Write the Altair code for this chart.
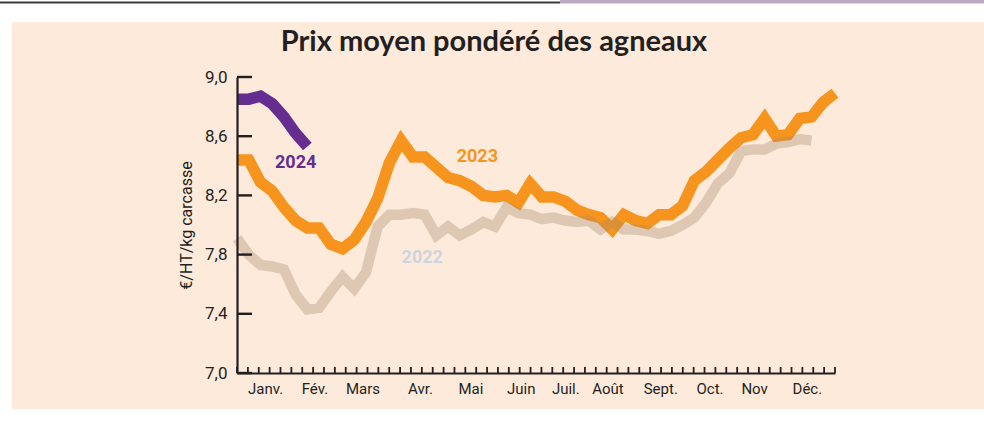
import altair as alt
import pandas as pd
import numpy as np

# ---- data ----
weeks_2022 = list(range(1, 51))
prix_2022 = [7.91, 7.80, 7.73, 7.72, 7.70, 7.53, 7.43, 7.44, 7.55, 7.65,
             7.57, 7.68, 7.99, 8.07, 8.07, 8.08, 8.07, 7.93, 7.99, 7.93,
             7.97, 8.02, 7.99, 8.12, 8.08, 8.07, 8.04, 8.05, 8.03, 8.02,
             8.03, 7.97, 8.02, 7.97, 7.97, 7.96, 7.94, 7.96, 8.00, 8.05,
             8.15, 8.28, 8.35, 8.50, 8.51, 8.51, 8.55, 8.56, 8.58, 8.57]

weeks_2023 = list(range(1, 53))
prix_2023 = [8.44, 8.44, 8.29, 8.23, 8.12, 8.03, 7.98, 7.98, 7.87, 7.84,
             7.90, 8.02, 8.18, 8.42, 8.57, 8.46, 8.46, 8.39, 8.32, 8.30,
             8.26, 8.20, 8.19, 8.20, 8.15, 8.28, 8.19, 8.19, 8.16, 8.10,
             8.07, 8.05, 7.97, 8.07, 8.03, 8.01, 8.07, 8.07, 8.13, 8.30,
             8.36, 8.44, 8.52, 8.59, 8.61, 8.72, 8.60, 8.61, 8.72, 8.73,
             8.83, 8.89]

weeks_2024 = list(range(1, 8))
prix_2024 = [8.85, 8.85, 8.87, 8.82, 8.73, 8.62, 8.53]

month_labels = ["Janv.", "Fév.", "Mars", "Avr.", "Mai", "Juin", "Juil.",
                "Août", "Sept.", "Oct.", "Nov", "Déc."]
month_weeks = [3.4, 7.6, 11.7, 16.6, 20.9, 25.2, 29.0, 32.6, 37.1, 41.3, 45.1, 49.6]

y_ticks = [7.0, 7.4, 7.8, 8.2, 8.6, 9.0]
week_ticks = [float(v) for v in np.linspace(1, 52, 56)]

year_labels = ["2024", "2023", "2022"]
year_label_x = [6.0, 21.5, 16.8]
year_label_y = [8.42, 8.46, 7.78]
year_label_colors = ["#662d91", "#f7941d", "#cbd5de"]

# ---- style ----
PEACH = "#feeada"
DARK = "#231f20"
ORANGE = "#f7941d"
PURPLE = "#662d91"
GREY = "#a68a6a"
W, H = 598, 296
PAD_L, PAD_T = 237, 77
FONT = "Roboto"

x_scale = alt.Scale(domain=[1, 52], nice=False, zero=False)
y_scale = alt.Scale(domain=[7.0, 9.0], nice=False, zero=False)

label_expr_x = ("[" + ",".join("'%s'" % m for m in month_labels) + "][indexof(["
                + ",".join(str(v) for v in month_weeks) + "], datum.value)]")

ax_x = alt.Axis(values=month_weeks, labelExpr=label_expr_x, tickSize=0,
                domainColor=DARK, domainWidth=2.2, grid=False, title=None,
                labelFont=FONT, labelFontSize=15, labelColor=DARK,
                labelPadding=8, labelAngle=0, zindex=1)
ax_y = alt.Axis(values=y_ticks,
                labelExpr="replace(format(datum.value, '.1f'), '.', ',')",
                tickSize=0, domainColor=DARK, domainWidth=2.2, grid=False,
                labelFont=FONT, labelFontSize=17, labelColor=DARK,
                labelPadding=10, title="€/HT/kg carcasse",
                titleFont=FONT, titleFontSize=16, titleFontWeight="normal",
                titleColor=DARK, titlePadding=10, zindex=1)

X = alt.X("semaine:Q", scale=x_scale, axis=ax_x)
Y = alt.Y("prix:Q", scale=y_scale, axis=ax_y)

df22 = pd.DataFrame({"semaine": weeks_2022, "prix": prix_2022})
df23 = pd.DataFrame({"semaine": weeks_2023, "prix": prix_2023})
df24 = pd.DataFrame({"semaine": weeks_2024, "prix": prix_2024})
one = pd.DataFrame({"a": [0]})

# white margins around the peach panel (canvas background is peach)
white_top = alt.Chart(one).mark_rect(color="white").encode(
    x=alt.value(0 - PAD_L), x2=alt.value(984 - PAD_L),
    y=alt.value(0 - PAD_T), y2=alt.value(22 - PAD_T))
white_left = alt.Chart(one).mark_rect(color="white").encode(
    x=alt.value(0 - PAD_L), x2=alt.value(12 - PAD_L),
    y=alt.value(0 - PAD_T), y2=alt.value(424 - PAD_T))
white_bottom = alt.Chart(one).mark_rect(color="white").encode(
    x=alt.value(0 - PAD_L), x2=alt.value(984 - PAD_L),
    y=alt.value(409 - PAD_T), y2=alt.value(424 - PAD_T))

top_dark = alt.Chart(one).mark_rule(color="#3a3a3a", strokeWidth=2).encode(
    x=alt.value(0 - PAD_L), x2=alt.value(560 - PAD_L), y=alt.value(2.5 - PAD_T))
top_purple = alt.Chart(one).mark_rule(color="#bda8c2", strokeWidth=3.5).encode(
    x=alt.value(560 - PAD_L), x2=alt.value(984 - PAD_L), y=alt.value(1.8 - PAD_T))

line23 = alt.Chart(df23).mark_line(
    color=ORANGE, strokeWidth=11.5, strokeCap="butt", strokeJoin="miter").encode(x=X, y=Y)

line22 = alt.Chart(df22).mark_line(
    color=GREY, opacity=0.35, strokeWidth=10.5, strokeCap="butt", strokeJoin="miter").encode(x=X, y=Y)

line24 = alt.Chart(df24).mark_line(
    color=PURPLE, strokeWidth=11.5, strokeCap="butt", strokeJoin="miter").encode(x=X, y=Y)

wk = alt.Chart(pd.DataFrame({"semaine": week_ticks})).mark_rule(color=DARK, strokeWidth=1.8).encode(
    x=X, y=alt.value(H), y2=alt.value(H - 6))

yt = alt.Chart(pd.DataFrame({"prix": y_ticks})).mark_rule(color=DARK, strokeWidth=2.4).encode(
    y=Y, x=alt.value(0), x2=alt.value(15))

labels = alt.Chart(pd.DataFrame({"label": year_labels, "semaine": year_label_x,
                                 "prix": year_label_y, "c": year_label_colors})).mark_text(
    font=FONT, fontSize=18, fontWeight="bold", align="center", baseline="middle").encode(
    x=X, y=Y, text="label:N", color=alt.Color("c:N", scale=None))

chart = alt.layer(line23, line22, line24, wk, yt, labels,
                  white_top, white_left, white_bottom, top_dark, top_purple).properties(
    width=W, height=H,
    autosize=alt.AutoSizeParams(type="none"),
    padding={"left": PAD_L, "top": PAD_T, "right": 984 - PAD_L - W, "bottom": 424 - PAD_T - H},
    title=alt.TitleParams("Prix moyen pondéré des agneaux", font="Lato", fontSize=29,
                          fontWeight="bold", color=DARK, anchor="middle", frame="group",
                          dx=-42, offset=-57),
).configure(background=PEACH).configure_view(stroke=None)

chart.save("out.html", embed_options={"renderer": "svg", "actions": False})
